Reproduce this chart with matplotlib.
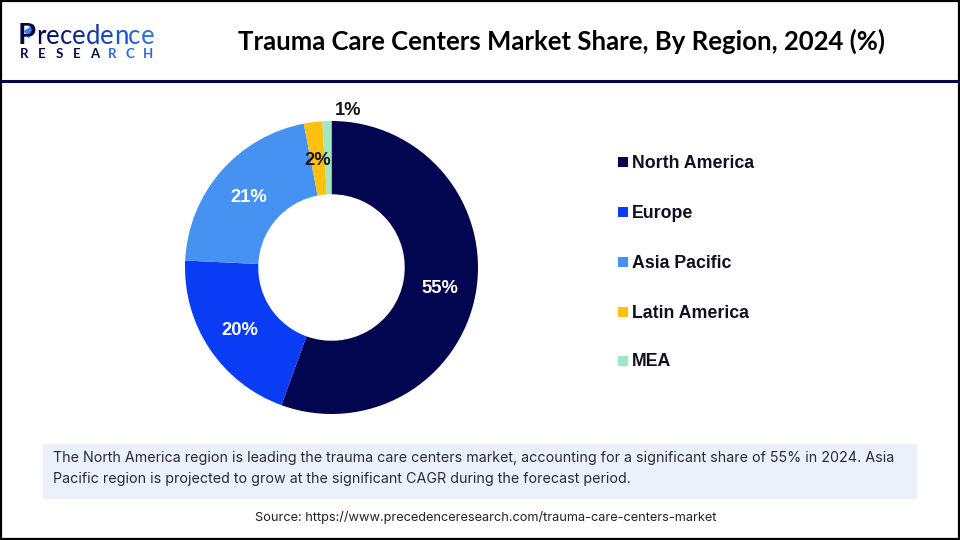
import numpy as np
import matplotlib
matplotlib.use("Agg")
import matplotlib.pyplot as plt
from matplotlib.patches import Rectangle, Polygon

regions = ["North America", "Europe", "Asia Pacific", "Latin America", "MEA"]
shares = [55, 20, 21, 2, 1]
colors = ["#020550", "#0A3CF5", "#4592F2", "#FFC012", "#9FE8C2"]
title = "Trauma Care Centers Market Share, By Region, 2024 (%)"
body = ["The North America region is leading the trauma care centers market, accounting for a significant share of 55% in 2024. Asia",
        "Pacific region is projected to grow at the significant CAGR during the forecast period."]
source = "Source: https://www.precedenceresearch.com/trauma-care-centers-market"

W, H = 960, 540
fig = plt.figure(figsize=(W/100, H/100), dpi=100, facecolor="white")

# overlay in pixel coordinates
bg = fig.add_axes([0, 0, 1, 1])
bg.set_xlim(0, W); bg.set_ylim(H, 0); bg.axis("off")
bg.add_patch(Rectangle((0.5, 0.5), W-1.5, H-1.5, fill=False, ec="black", lw=1.6))
bg.plot([0, W], [81, 81], color="#050A45", lw=2.2, solid_capstyle="butt")
bg.text(561.5, 41, title, ha="center", va="center", family="Lato", weight="bold", fontsize=18.5, color="black")

# logo: letters laid side by side from their measured widths
rend = fig.canvas.get_renderer()
bg.text(18, 44, "P", ha="left", va="baseline", family="Lato", weight="bold", fontsize=21, color="#050A45")
logo = "recedence"
lc = ["#050A45", "#08105E", "#0B1C78", "#0E2A90", "#1138A8", "#1546BC", "#1A55CC", "#2264D8", "#2C72E0"]
x = 36.5
for ch, c in zip(logo, lc):
    t = bg.text(x, 44, ch, ha="left", va="baseline", family="Lato", fontsize=18.5, color=c)
    x += t.get_window_extent(rend).width
for i, ch in enumerate("RESEARCH"):
    c = "#050A45" if i < 5 else "#2A6CD8"
    bg.text(20 + i*17.6, 58.5, ch, ha="left", va="baseline", family="Lato", weight="bold", fontsize=9.5, color=c)
bg.add_patch(Polygon([(24, 31), (34, 24), (29, 39)], closed=True, fc="#3C82E6", ec="none"))

# callout box
bg.add_patch(Rectangle((43, 444), 874, 55, fc="#EAF1FA", ec="none"))
for y, line in zip([458, 479], body):
    bg.text(53, y, line, ha="left", va="center", family="Inter", fontsize=10.3, color="#2B2B33")
bg.text(486, 517, source, ha="center", va="center", family="Inter", fontsize=9.2, color="#222222")

# legend
for y, name, c in zip([162, 212, 262, 312, 361], regions, colors):
    bg.add_patch(Rectangle((618, y-5), 10, 10, fc=c, ec="none"))
    bg.text(632, y+1, name, ha="left", va="center", family="Liberation Sans", weight="bold", fontsize=12.8, color="#101020")

# donut
cx, cy, r = 331.5, 267.5, 146.5
ax = fig.add_axes([(cx-r)/W, 1-(cy+r)/H, 2*r/W, 2*r/H])
wedges, _ = ax.pie(shares, colors=colors, startangle=90, counterclock=False, radius=1,
                   wedgeprops=dict(width=0.5, ec="none"))
ax.set_xlim(-1, 1); ax.set_ylim(-1, 1); ax.set_aspect("equal")
txt = ["white", "white", "white", "#151515", "#151515"]
for w, s, c in zip(wedges, shares, txt):
    a = np.deg2rad((w.theta1 + w.theta2) / 2)
    x, y = 0.75*np.cos(a), 0.75*np.sin(a) - 0.012
    if s == 1:
        x, y = 0.113, 1.07
    ax.text(x, y, f"{s}%", ha="center", va="center", family="Liberation Sans", weight="bold",
            fontsize=13.2, color=c, clip_on=False)

fig.savefig("out.png", dpi=100)
